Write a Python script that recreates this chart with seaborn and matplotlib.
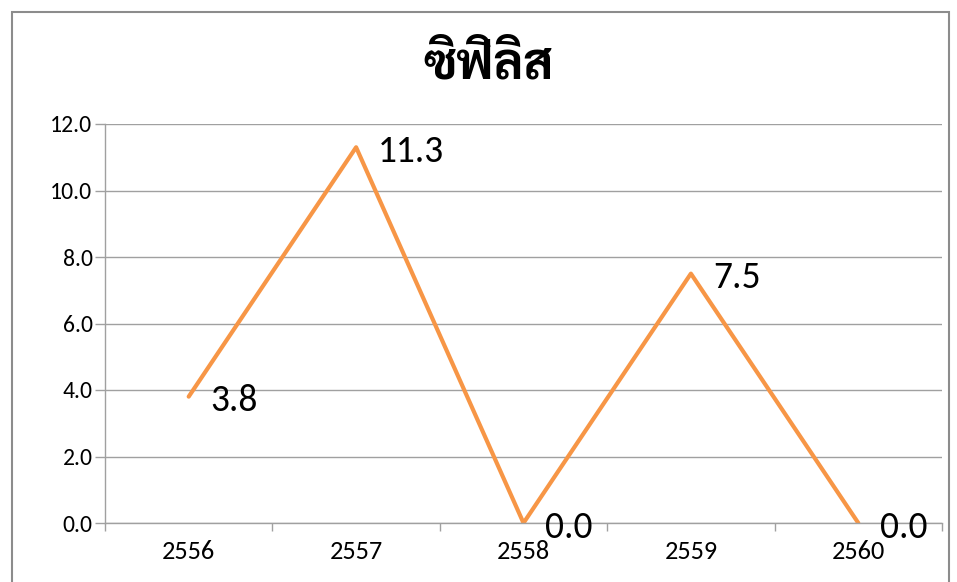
import pandas as pd
import seaborn as sns
import matplotlib.pyplot as plt
from matplotlib.patches import Rectangle
from matplotlib.ticker import FixedLocator

years = ['2556', '2557', '2558', '2559', '2560']
rates = [3.8, 11.3, 0.0, 7.5, 0.0]
title = 'ซิฟิลิส'

df = pd.DataFrame({'year': years, 'rate': rates})

sns.set_style('white')
plt.rcParams['font.family'] = ['Carlito', 'Lato', 'DejaVu Sans']
plt.rcParams['text.color'] = 'black'
plt.rcParams['xtick.labelcolor'] = 'black'
plt.rcParams['ytick.labelcolor'] = 'black'

fig = plt.figure(figsize=(9.57, 5.82), dpi=100)
ax = fig.add_axes([105 / 957, 1 - 523 / 582, 837 / 957, 399 / 582])

sns.lineplot(data=df, x='year', y='rate', color='#F79646', linewidth=3, ax=ax)

ax.set_xlim(-0.5, len(years) - 0.5)
ax.set_ylim(0, 12)
ax.set_yticks(range(0, 13, 2))
ax.set_yticklabels([f'{v:.1f}' for v in range(0, 13, 2)], fontsize=17)
ax.set_xticks(range(len(years)))
ax.set_xticklabels(years, fontsize=19)
ax.xaxis.set_minor_locator(FixedLocator([i - 0.5 for i in range(len(years) + 1)]))
ax.tick_params(axis='x', which='major', length=0, pad=12)
ax.tick_params(axis='x', which='minor', length=6, color='#A0A0A0', width=1, direction='out', bottom=True)
ax.tick_params(axis='y', length=7, color='#A0A0A0', width=1, direction='out', left=True, pad=2)
ax.grid(axis='y', color='#A0A0A0', linewidth=1)
ax.set_axisbelow(True)
for s in ['top', 'right']:
    ax.spines[s].set_visible(False)
for s in ['left', 'bottom']:
    ax.spines[s].set_color('#A0A0A0')
    ax.spines[s].set_linewidth(1)
ax.set_xlabel('')
ax.set_ylabel('')

for i, v in enumerate(rates):
    ax.annotate(f'{v:.1f}', (i, v), xytext=(22, -4), textcoords='offset pixels',
                ha='left', va='center', fontsize=27, color='black')

fig.text(489 / 957, 1 - 66 / 582, title, ha='center', va='center',
         fontsize=36, fontweight='bold', family=['Sarabun', 'IBM Plex Sans Thai Looped', 'DejaVu Sans'])

fig.patches.append(Rectangle((12 / 957, -0.1), (949 - 12) / 957, 1.1 - 12 / 582,
                             transform=fig.transFigure, fill=False,
                             edgecolor='#8C8C8C', linewidth=1.5))

fig.savefig('out.png', dpi=100)
